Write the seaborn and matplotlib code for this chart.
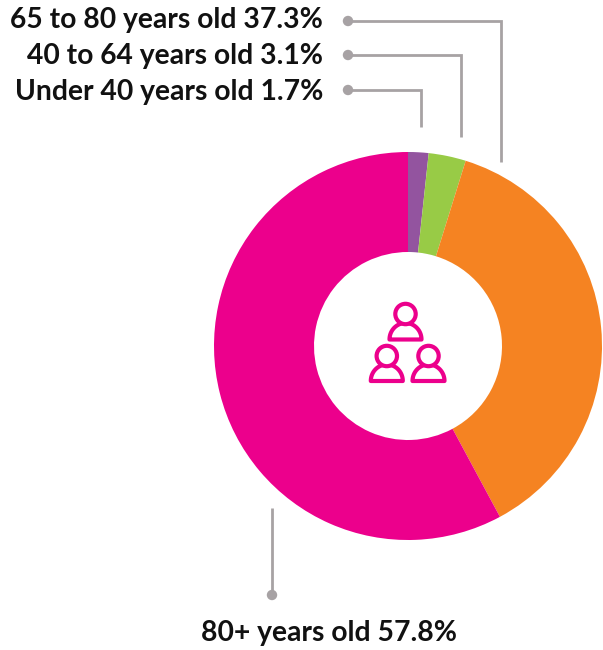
import numpy as np
import matplotlib
matplotlib.use("Agg")
import matplotlib.pyplot as plt
from matplotlib.patches import Circle, Polygon
import seaborn as sns

# Age breakdown, clockwise from twelve o'clock
age_groups = ["Under 40 years old", "40 to 64 years old", "65 to 80 years old", "80+ years old"]
shares = [1.7, 3.1, 37.3, 57.8]
slice_colors = ["#93549F", "#98CB46", "#F58322", "#EC008C"]

LEADER = "#A7A2A4"
W, H = 603, 650

sns.set_theme(style="white")
plt.rcParams["font.family"] = ["Lato", "DejaVu Sans"]

fig = plt.figure(figsize=(W / 100, H / 100), dpi=100)
ax = fig.add_axes([0, 0, 1, 1])


def fy(y):
    """Convert a top-down pixel row into the upward y axis."""
    return H - y


palette = sns.color_palette(slice_colors)
ax.pie(
    shares,
    colors=palette,
    startangle=90,
    counterclock=False,
    center=(408, fy(346)),
    radius=194,
    wedgeprops=dict(width=100, linewidth=0),
)
ax.set_xlim(0, W)
ax.set_ylim(0, H)
ax.set_aspect("equal")
ax.axis("off")

# Leader lines joining each label to its slice
leaders = [
    ([348, 501, 501], [21, 21, 162]),
    ([348, 461, 461], [55, 55, 137]),
    ([348, 421, 421], [90, 90, 127]),
    ([272, 272], [595, 508]),
]
for xs, ys in leaders:
    ax.plot(xs, [fy(v) for v in ys], color=LEADER, lw=2.0,
            solid_joinstyle="miter", solid_capstyle="butt", zorder=3)
    ax.add_patch(Circle((xs[0], fy(ys[0])), 5.2, color=LEADER, lw=0, zorder=4))

# Labels
label_rows = [(2, 28), (1, 64), (0, 100)]
for idx, base in label_rows:
    ax.text(323, fy(base), f"{age_groups[idx]} {shares[idx]}%", ha="right", va="baseline",
            fontsize=20.3, fontweight="bold", color="#111111")
ax.text(329, fy(641), f"{age_groups[3]} {shares[3]}%", ha="center", va="baseline",
        fontsize=20.3, fontweight="bold", color="#111111")


def person(cx, head_y, base_y):
    """Outlined figure: a half-oval body with a round head on top."""
    t = np.linspace(0, np.pi, 60)
    body = np.column_stack([cx + 16 * np.cos(t), fy(base_y) + 16.5 * np.sin(t)])
    ax.add_patch(Polygon(body, closed=True, facecolor="white", edgecolor="#EC008C",
                         lw=3.0, joinstyle="round", zorder=5))
    ax.add_patch(Circle((cx, fy(head_y)), 10.2, facecolor="white", edgecolor="#EC008C",
                        lw=3.0, zorder=6))


person(405.5, 314, 339.5)
person(386.8, 356, 381)
person(428.5, 356, 381)

fig.savefig("out.png", dpi=100)
